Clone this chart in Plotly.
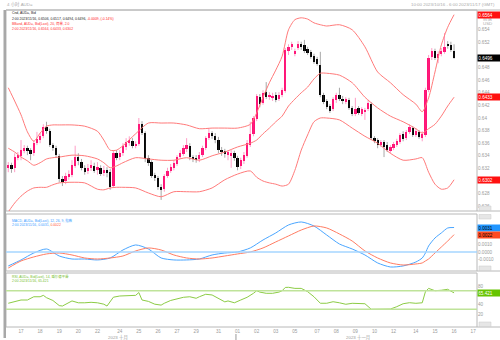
import plotly.graph_objects as go

# ---------------- data (4h bars, AUD=) ----------------
opens = [0.6321, 0.6325, 0.6321, 0.6338, 0.6340, 0.6348, 0.6351, 0.6349, 0.6344, 0.6360,
         0.6365, 0.6371, 0.6386, 0.6379, 0.6357, 0.6352, 0.6340, 0.6303, 0.6300, 0.6306,
         0.6310, 0.6324, 0.6338, 0.6330, 0.6321, 0.6316, 0.6321, 0.6324, 0.6317, 0.6321,
         0.6313, 0.6317, 0.6314, 0.6292, 0.6344, 0.6338, 0.6344, 0.6354, 0.6360, 0.6363,
         0.6356, 0.6359, 0.6390, 0.6376, 0.6337, 0.6330, 0.6310, 0.6305, 0.6290, 0.6287,
         0.6308, 0.6316, 0.6321, 0.6327, 0.6338, 0.6343, 0.6351, 0.6356, 0.6338, 0.6337,
         0.6335, 0.6341, 0.6352, 0.6368, 0.6376, 0.6371, 0.6365, 0.6349, 0.6348, 0.6341,
         0.6340, 0.6344, 0.6337, 0.6324, 0.6332, 0.6340, 0.6357, 0.6375, 0.6398, 0.6433,
         0.6424, 0.6441, 0.6433, 0.6432, 0.6437, 0.6430, 0.6437, 0.6443, 0.6506, 0.6513,
         0.6502, 0.6511, 0.6517, 0.6516, 0.6510, 0.6505, 0.6498, 0.6494, 0.6484, 0.6437,
         0.6427, 0.6419, 0.6414, 0.6429, 0.6437, 0.6430, 0.6425, 0.6429, 0.6416, 0.6406,
         0.6416, 0.6406, 0.6410, 0.6414, 0.6422, 0.6368, 0.6365, 0.6357, 0.6362, 0.6357,
         0.6348, 0.6352, 0.6357, 0.6362, 0.6375, 0.6368, 0.6378, 0.6384, 0.6373, 0.6378,
         0.6368, 0.6373, 0.6444, 0.6497, 0.6506, 0.6495, 0.6502, 0.6505, 0.6516, 0.6516,
         0.6506]
highs = [0.6330, 0.6329, 0.6344, 0.6346, 0.6365, 0.6357, 0.6356, 0.6352, 0.6365, 0.6378,
         0.6376, 0.6390, 0.6394, 0.6383, 0.6360, 0.6356, 0.6343, 0.6308, 0.6313, 0.6317,
         0.6333, 0.6356, 0.6344, 0.6335, 0.6325, 0.6327, 0.6333, 0.6329, 0.6330, 0.6325,
         0.6324, 0.6322, 0.6319, 0.6349, 0.6349, 0.6349, 0.6360, 0.6368, 0.6371, 0.6368,
         0.6363, 0.6400, 0.6395, 0.6379, 0.6341, 0.6333, 0.6313, 0.6308, 0.6295, 0.6311,
         0.6321, 0.6327, 0.6333, 0.6341, 0.6349, 0.6357, 0.6368, 0.6360, 0.6341, 0.6341,
         0.6346, 0.6356, 0.6371, 0.6384, 0.6379, 0.6376, 0.6370, 0.6354, 0.6351, 0.6349,
         0.6349, 0.6348, 0.6340, 0.6337, 0.6346, 0.6365, 0.6394, 0.6403, 0.6438, 0.6438,
         0.6444, 0.6457, 0.6441, 0.6440, 0.6441, 0.6441, 0.6448, 0.6511, 0.6517, 0.6521,
         0.6510, 0.6522, 0.6521, 0.6524, 0.6513, 0.6508, 0.6502, 0.6497, 0.6505, 0.6440,
         0.6430, 0.6422, 0.6433, 0.6440, 0.6448, 0.6435, 0.6433, 0.6432, 0.6419, 0.6432,
         0.6419, 0.6417, 0.6416, 0.6429, 0.6425, 0.6371, 0.6368, 0.6365, 0.6365, 0.6362,
         0.6357, 0.6362, 0.6367, 0.6376, 0.6379, 0.6381, 0.6390, 0.6387, 0.6384, 0.6381,
         0.6379, 0.6448, 0.6500, 0.6511, 0.6510, 0.6506, 0.6511, 0.6535, 0.6522, 0.6521,
         0.6517]
lows = [0.6314, 0.6313, 0.6314, 0.6333, 0.6333, 0.6344, 0.6341, 0.6333, 0.6340, 0.6357,
        0.6360, 0.6368, 0.6375, 0.6354, 0.6348, 0.6337, 0.6298, 0.6292, 0.6295, 0.6302,
        0.6306, 0.6321, 0.6325, 0.6317, 0.6310, 0.6311, 0.6316, 0.6313, 0.6310, 0.6308,
        0.6308, 0.6306, 0.6286, 0.6289, 0.6333, 0.6333, 0.6340, 0.6349, 0.6356, 0.6352,
        0.6352, 0.6356, 0.6373, 0.6330, 0.6324, 0.6305, 0.6300, 0.6286, 0.6270, 0.6283,
        0.6305, 0.6313, 0.6317, 0.6324, 0.6335, 0.6340, 0.6346, 0.6333, 0.6330, 0.6329,
        0.6330, 0.6338, 0.6349, 0.6365, 0.6367, 0.6360, 0.6344, 0.6340, 0.6337, 0.6333,
        0.6321, 0.6332, 0.6317, 0.6319, 0.6327, 0.6337, 0.6354, 0.6371, 0.6395, 0.6417,
        0.6421, 0.6430, 0.6429, 0.6427, 0.6425, 0.6427, 0.6433, 0.6440, 0.6500, 0.6508,
        0.6498, 0.6508, 0.6508, 0.6503, 0.6500, 0.6494, 0.6486, 0.6483, 0.6433, 0.6422,
        0.6414, 0.6408, 0.6411, 0.6424, 0.6427, 0.6422, 0.6422, 0.6413, 0.6403, 0.6403,
        0.6405, 0.6403, 0.6397, 0.6411, 0.6365, 0.6360, 0.6352, 0.6354, 0.6338, 0.6346,
        0.6344, 0.6349, 0.6354, 0.6359, 0.6363, 0.6365, 0.6375, 0.6370, 0.6370, 0.6367,
        0.6363, 0.6370, 0.6441, 0.6492, 0.6492, 0.6487, 0.6498, 0.6502, 0.6510, 0.6505,
        0.6494]
closes = [0.6325, 0.6319, 0.6338, 0.6341, 0.6349, 0.6352, 0.6348, 0.6343, 0.6360, 0.6367,
          0.6371, 0.6386, 0.6379, 0.6357, 0.6352, 0.6341, 0.6303, 0.6298, 0.6308, 0.6311,
          0.6325, 0.6338, 0.6332, 0.6321, 0.6314, 0.6321, 0.6325, 0.6316, 0.6322, 0.6311,
          0.6317, 0.6313, 0.6290, 0.6344, 0.6337, 0.6344, 0.6356, 0.6362, 0.6365, 0.6356,
          0.6359, 0.6390, 0.6376, 0.6335, 0.6329, 0.6308, 0.6305, 0.6290, 0.6286, 0.6308,
          0.6316, 0.6322, 0.6329, 0.6338, 0.6344, 0.6352, 0.6357, 0.6338, 0.6335, 0.6333,
          0.6341, 0.6352, 0.6368, 0.6376, 0.6371, 0.6365, 0.6349, 0.6346, 0.6343, 0.6346,
          0.6344, 0.6337, 0.6322, 0.6333, 0.6341, 0.6360, 0.6375, 0.6400, 0.6435, 0.6422,
          0.6440, 0.6433, 0.6437, 0.6435, 0.6429, 0.6437, 0.6444, 0.6508, 0.6513, 0.6517,
          0.6506, 0.6517, 0.6513, 0.6506, 0.6503, 0.6497, 0.6489, 0.6486, 0.6437, 0.6425,
          0.6417, 0.6411, 0.6430, 0.6437, 0.6430, 0.6427, 0.6430, 0.6416, 0.6406, 0.6414,
          0.6408, 0.6414, 0.6413, 0.6424, 0.6368, 0.6363, 0.6357, 0.6362, 0.6354, 0.6349,
          0.6354, 0.6359, 0.6363, 0.6373, 0.6367, 0.6378, 0.6386, 0.6373, 0.6379, 0.6370,
          0.6375, 0.6444, 0.6495, 0.6506, 0.6495, 0.6502, 0.6506, 0.6513, 0.6514, 0.6508,
          0.6496]

# Bollinger (20, 2.0)
bb_idx = [0, 2, 4, 6, 8, 10, 12, 14, 16, 20, 24, 28, 30, 32, 34, 36, 40, 44, 48, 52, 56, 60,
          64, 68, 72, 76, 78, 80, 82, 84, 86, 88, 90, 92, 94, 96, 98, 100, 104, 108, 112, 116,
          120, 124, 128, 130, 132, 134, 136, 138, 140]
bb_upper = [0.6448, 0.6427, 0.6405, 0.6378, 0.6363, 0.6376, 0.6387, 0.6389, 0.6389, 0.6389,
            0.6387, 0.6379, 0.6365, 0.6349, 0.6349, 0.6356, 0.6375, 0.6392, 0.6392, 0.6392,
            0.6389, 0.6383, 0.6384, 0.6384, 0.6384, 0.6390, 0.6408, 0.6433, 0.6456, 0.6476,
            0.6498, 0.6540, 0.6556, 0.6559, 0.6557, 0.6551, 0.6548, 0.6546, 0.6548, 0.6540,
            0.6513, 0.6473, 0.6456, 0.6437, 0.6422, 0.6410, 0.6432, 0.6473, 0.6516, 0.6544,
            0.6564]
bb_mid = [0.6352, 0.6346, 0.6338, 0.6332, 0.6325, 0.6329, 0.6335, 0.6337, 0.6338, 0.6341,
          0.6340, 0.6335, 0.6329, 0.6321, 0.6324, 0.6329, 0.6337, 0.6335, 0.6333, 0.6333,
          0.6337, 0.6333, 0.6340, 0.6346, 0.6354, 0.6360, 0.6365, 0.6375, 0.6384, 0.6394,
          0.6403, 0.6419, 0.6430, 0.6440, 0.6449, 0.6462, 0.6471, 0.6471, 0.6468, 0.6456,
          0.6433, 0.6416, 0.6403, 0.6394, 0.6383, 0.6376, 0.6383, 0.6390, 0.6403, 0.6419,
          0.6433]
bb_lower = [0.6251, 0.6265, 0.6276, 0.6284, 0.6289, 0.6290, 0.6290, 0.6294, 0.6297, 0.6298,
            0.6297, 0.6287, 0.6286, 0.6289, 0.6290, 0.6290, 0.6289, 0.6281, 0.6275, 0.6283,
            0.6283, 0.6283, 0.6289, 0.6302, 0.6311, 0.6316, 0.6306, 0.6300, 0.6297, 0.6295,
            0.6292, 0.6295, 0.6317, 0.6349, 0.6373, 0.6394, 0.6400, 0.6400, 0.6397, 0.6384,
            0.6371, 0.6360, 0.6344, 0.6333, 0.6335, 0.6337, 0.6314, 0.6295, 0.6287, 0.6289,
            0.6302]

# MACD (12, 26, 9)
macd_idx = [0, 4, 8, 12, 16, 20, 24, 28, 32, 36, 40, 44, 48, 52, 56, 60, 64, 68, 72, 76, 80,
            84, 88, 92, 96, 100, 104, 108, 112, 116, 120, 124, 128, 130, 131, 132, 134, 136,
            138, 140]
macd_line = [-0.00177, -0.00101, -0.00013, 0.00038, -0.00051, -0.00089, -0.00089, -0.00101,
             -0.00076, 0.00025, 0.00089, 0.00038, -0.00076, -0.00101, -0.00101, -0.00089,
             -0.00038, -0.00013, 0.0, 0.00051, 0.00152, 0.00241, 0.00342, 0.00380, 0.00329,
             0.00215, 0.00101, 0.00038, -0.00038, -0.00139, -0.00190, -0.00177, -0.00127,
             -0.00076, -0.00013, 0.00076, 0.00177, 0.00241, 0.00304, 0.0031]
macd_signal = [-0.00203, -0.00114, -0.00063, -0.00025, -0.00013, -0.00038, -0.00076, -0.00089,
               -0.00076, -0.00051, 0.00013, 0.00051, 0.00025, -0.00038, -0.00076, -0.00089,
               -0.00076, -0.00051, -0.00025, 0.0, 0.00051, 0.00127, 0.00203, 0.00278, 0.00329,
               0.00304, 0.00228, 0.00139, 0.00013, -0.00076, -0.00139, -0.00165, -0.00152,
               -0.00139, -0.00114, -0.00089, -0.00013, 0.00063, 0.00139, 0.0022]

# RSI (14, Wilder)
rsi_idx = [0, 2, 4, 6, 8, 10, 11, 12, 14, 16, 17, 20, 22, 24, 26, 28, 30, 31, 33, 35, 38, 40,
           41, 42, 44, 46, 48, 49, 51, 53, 55, 57, 59, 60, 62, 64, 66, 68, 69, 71, 73, 75, 77,
           78, 79, 81, 83, 85, 86, 87, 88, 90, 92, 94, 96, 98, 100, 102, 104, 106, 108, 110,
           112, 114, 116, 118, 120, 122, 124, 126, 128, 130, 131, 132, 134, 136, 138, 139, 140]
rsi_vals = [43.0, 46.0, 50.0, 50.0, 57.0, 57.0, 60.0, 55.0, 49.0, 38.0, 37.0, 48.0, 44.0, 44.0,
            45.0, 44.0, 41.0, 37.0, 56.0, 58.6, 58.6, 60.0, 66.0, 50.0, 47.0, 41.0, 39.0, 43.0,
            49.0, 52.0, 55.8, 57.0, 53.7, 57.0, 62.3, 60.8, 53.7, 46.0, 48.0, 44.0, 50.0, 55.8,
            64.4, 70.0, 67.0, 64.4, 64.4, 67.0, 70.0, 77.0, 77.3, 75.0, 75.0, 68.0, 57.0, 43.0,
            43.0, 46.3, 44.0, 40.8, 42.9, 42.9, 42.0, 30.0, 30.0, 30.0, 30.5, 35.6, 42.0, 44.2,
            42.9, 44.0, 67.8, 75.0, 70.0, 71.0, 73.0, 69.0, 65.421]

tick_idx = [4, 10, 16, 22, 28, 35, 41, 47, 53, 59, 66, 72, 78, 84, 90, 97, 103, 109, 115, 121,
            128, 134, 140, 146]
tick_txt = ["17", "18", "19", "20", "22", "24", "25", "26", "27", "29", "31", "01", "02", "03",
            "05", "07", "08", "09", "10", "12", "14", "15", "16", "17"]

# right-axis labels that are not hidden behind the value boxes
price_ticks = [0.626, 0.628, 0.632, 0.634, 0.636, 0.638, 0.640, 0.642, 0.644, 0.646,
               0.648, 0.652, 0.654]
price_tick_txt = ["0.626", "0.628", "0.632", "0.634", "0.636", "0.638", "0.64", "0.642",
                  "0.644", "0.646", "0.648", "0.652", "0.654"]
macd_ticks = [-0.001, 0.0, 0.001]
macd_tick_txt = ["-0.0010", "0.0000", "0.0010"]
rsi_ticks = [20, 40, 80]
rsi_levels = [70, 30]

# ---------------- layout helpers ----------------
W, H = 500, 340
ML, MR, MT, MB = 6, 23, 10, 13
PW, PH = W - ML - MR, H - MT - MB


def PX(x):
    return (x - ML) / PW


def PY(y):
    return (H - MB - y) / PH


FONT = "Liberation Sans, Noto Sans CJK SC, sans-serif"
GREY = "#9a9a9a"
PINK = "#ff1477"
BAND = "#ff7a7a"
BLUE = "#4aa6ff"
SALMON = "#ff7c62"
GREEN = "#8ccc45"

fig = go.Figure()

# wicks
wx_u, wy_u, wx_d, wy_d = [], [], [], []
for i, (o, h, l, c) in enumerate(zip(opens, highs, lows, closes)):
    if c >= o:
        wx_u += [i, i, None]
        wy_u += [l, h, None]
    else:
        wx_d += [i, i, None]
        wy_d += [l, h, None]
fig.add_trace(go.Scatter(x=wx_u, y=wy_u, mode="lines", line=dict(color="rgba(255,40,130,0.45)", width=1),
                         hoverinfo="skip", showlegend=False))
fig.add_trace(go.Scatter(x=wx_d, y=wy_d, mode="lines", line=dict(color="rgba(60,60,60,0.45)", width=1),
                         hoverinfo="skip", showlegend=False))
# bodies
fig.add_trace(go.Bar(x=list(range(len(opens))), base=opens,
                     y=[c - o for o, c in zip(opens, closes)],
                     width=0.72, marker=dict(color=[PINK if c >= o else "#000000" for o, c in zip(opens, closes)],
                                              line=dict(width=0)),
                     showlegend=False, hoverinfo="skip"))
# Bollinger bands
for arr in (bb_upper, bb_mid, bb_lower):
    fig.add_trace(go.Scatter(x=bb_idx, y=arr, mode="lines",
                             line=dict(color=BAND, width=1, shape="spline", smoothing=0.7),
                             showlegend=False, hoverinfo="skip"))

# MACD
fig.add_trace(go.Scatter(x=macd_idx, y=macd_line, xaxis="x2", yaxis="y2", mode="lines",
                         line=dict(color=BLUE, width=1, shape="spline", smoothing=0.7), showlegend=False))
fig.add_trace(go.Scatter(x=macd_idx, y=macd_signal, xaxis="x2", yaxis="y2", mode="lines",
                         line=dict(color=SALMON, width=1, shape="spline", smoothing=0.7), showlegend=False))

# RSI
fig.add_trace(go.Scatter(x=rsi_idx, y=rsi_vals, xaxis="x3", yaxis="y3", mode="lines",
                         line=dict(color=GREEN, width=1), showlegend=False))

xr = [-0.72, 147.2]
ax_common = dict(range=xr, showgrid=False, zeroline=False, showline=False, ticks="",
                 fixedrange=True, automargin=False)
yfont = dict(family=FONT, size=4.6, color=GREY)

fig.update_layout(
    width=W, height=H, template="none",
    margin=dict(l=ML, r=MR, t=MT, b=MB, pad=0),
    paper_bgcolor="white", plot_bgcolor="white",
    barmode="overlay", bargap=0, showlegend=False,
    font=dict(family=FONT),
    xaxis=dict(domain=[0, 1], anchor="y", showticklabels=False, **ax_common),
    xaxis2=dict(domain=[0, 1], anchor="y2", showticklabels=False, matches="x", **ax_common),
    xaxis3=dict(domain=[0, 1], anchor="y3", showticklabels=True, matches="x",
                tickmode="array", tickvals=tick_idx, ticktext=tick_txt,
                tickfont=dict(family=FONT, size=4.6, color=GREY), **ax_common),
    yaxis=dict(domain=[PY(211), PY(10)], range=[0.62524, 0.65714], side="right",
               tickmode="array", tickvals=price_ticks, ticktext=price_tick_txt,
               tickfont=yfont, showgrid=False, zeroline=False, ticks="", automargin=False),
    yaxis2=dict(domain=[PY(271), PY(214)], range=[-0.00241, 0.00481], side="right",
                tickmode="array", tickvals=macd_ticks, ticktext=macd_tick_txt,
                tickfont=yfont, showgrid=False, zeroline=False, ticks="", automargin=False),
    yaxis3=dict(domain=[PY(327), PY(273)], range=[-8.1, 108.1], side="right",
                tickmode="array", tickvals=rsi_ticks, ticktext=[str(t) for t in rsi_ticks],
                tickfont=yfont, showgrid=False, zeroline=False, ticks="", automargin=False),
)

shapes = []
LINE = "#b8b8b8"
# panel frames
for (t, b) in [(10, 211), (214, 271), (273, 327)]:
    shapes.append(dict(type="rect", xref="paper", yref="paper", x0=PX(6), x1=PX(477), y0=PY(b), y1=PY(t),
                       line=dict(color=LINE, width=1), fillcolor="rgba(0,0,0,0)", layer="below"))
    shapes.append(dict(type="line", xref="paper", yref="paper", x0=PX(477), x1=PX(500), y0=PY(b), y1=PY(b),
                       line=dict(color=LINE, width=1)))
shapes.append(dict(type="line", xref="paper", yref="paper", x0=PX(6), x1=PX(500), y0=PY(10), y1=PY(10),
                   line=dict(color=LINE, width=1)))
# left frame bar
shapes.append(dict(type="rect", xref="paper", yref="paper", x0=PX(3.5), x1=PX(6), y0=PY(338), y1=PY(10),
                   line=dict(width=0), fillcolor="#a8a8a8"))
# month separator
shapes.append(dict(type="line", xref="x3", yref="paper", x0=71.5, x1=71.5, y0=PY(334), y1=PY(340),
                   line=dict(color=GREY, width=1)))
# MACD zero line, RSI levels
shapes.append(dict(type="line", xref="paper", yref="y2", x0=0, x1=1, y0=0, y1=0,
                   line=dict(color="#a6d6ff", width=1.5)))
for lv in rsi_levels:
    shapes.append(dict(type="line", xref="paper", yref="y3", x0=0, x1=1, y0=lv, y1=lv,
                       line=dict(color="#bfe39a", width=1.5)))
# small grey scale buttons on right axis
for (t, b) in [(206, 210.5), (214.5, 219), (266, 270.5), (322, 326.5)]:
    shapes.append(dict(type="rect", xref="paper", yref="paper", x0=PX(479), x1=PX(491), y0=PY(b), y1=PY(t),
                       line=dict(color="#c8c8c8", width=0.5), fillcolor="#e6e6e6"))
fig.update_layout(shapes=shapes)

ann = []


def txt(x, y, s, size=3.4, color="#222", anchor="left"):
    ann.append(dict(xref="paper", yref="paper", x=PX(x), y=PY(y), text=s, showarrow=False,
                    xanchor=anchor, yanchor="middle", font=dict(family=FONT, size=size, color=color)))


def box(yref, val, s, bg, fg="white"):
    ann.append(dict(xref="paper", yref=yref, x=1.0, y=val, text=s, showarrow=False,
                    xanchor="left", yanchor="middle", align="left", bgcolor=bg, borderpad=0.3,
                    width=22, height=5.5, font=dict(family=FONT, size=4.6, color=fg)))


txt(5, 4.5, "4 小时 AUD=", size=4.4, color="#aaaaaa")
txt(497, 4.5, "10:00 2023/10/16 - 6:00 2023/11/17 (GMT)", size=4.4, color="#aaaaaa", anchor="right")
txt(10, 13.3, "Cnd, AUD=, Bid", color="#222222")
txt(10, 18.7, "2:00 2023/11/16, 0.6506, 0.6517, 0.6494, 0.6496, "
              "<span style='color:#ff2020'>-0.0009, (-0.14%)</span>", color="#222222")
txt(10, 24.0, "BBand, AUD=, Bid(Last), 20, 简单, 2.0", color="#ff3030")
txt(10, 29.3, "2:00 2023/11/16, 0.6564, 0.6433, 0.6302", color="#ff3030")
txt(10, 220.0, "MACD, AUD=, Bid(Last), 12, 26, 9, 指数", color="#3a9cff")
txt(10, 224.5, "2:00 2023/11/16, 0.0031, <span style='color:#ff5a3a'>0.0022</span>", color="#3a9cff")
txt(10, 276.7, "RSI, AUD=, Bid(Last), 14, 威尔德平滑", color="#77c030")
txt(10, 281.2, "2:00 2023/11/16, 65.421", color="#77c030")
txt(481, 18.7, "前值", size=4.4, color="#aaaaaa")
txt(481, 24.0, "USD", size=4.4, color="#aaaaaa")
txt(118, 337, "2023 十月", size=4.4, color=GREY, anchor="center")
txt(358, 337, "2023 十一月", size=4.4, color=GREY, anchor="center")

box("y", bb_upper[-1], "0.6564", "#ff1010")
box("y", closes[-1], "0.6496", "#000000")
box("y", bb_mid[-1], "0.6433", "#ff1010")
box("y", bb_lower[-1], "0.6302", "#ff1010")
box("y2", macd_line[-1], "0.0031", "#2196ff", "#000000")
box("y2", macd_signal[-1], "0.0022", "#ff4a22", "#000000")
box("y3", rsi_vals[-1], "65.421", "#66c400")

fig.update_layout(annotations=ann)
fig.write_html("out.html")
